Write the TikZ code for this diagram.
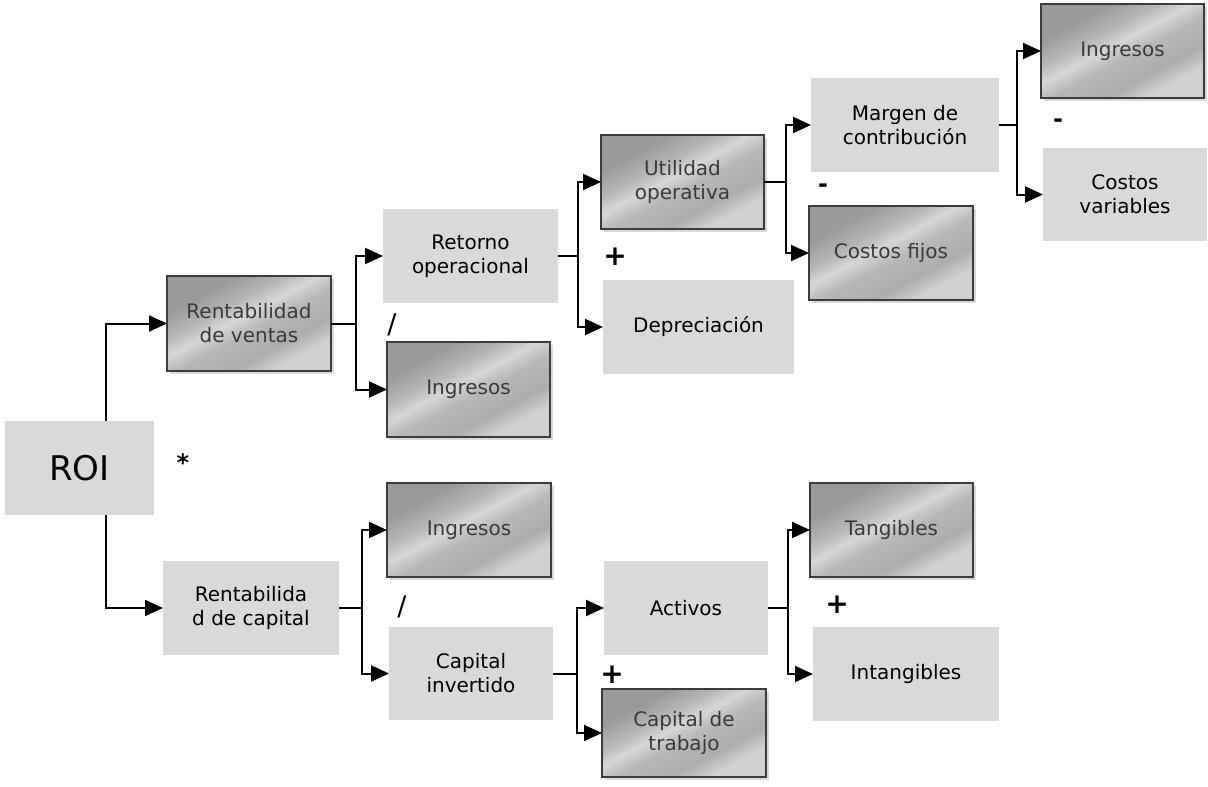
\documentclass[tikz,border=0pt]{standalone}
\usepackage{fontspec}
\setmainfont{DejaVu Sans}
\usetikzlibrary{arrows.meta,shadows}

\definecolor{boxgray}{HTML}{D9D9D9}
\definecolor{edge}{HTML}{3C3C3C}
\definecolor{mtext}{HTML}{3A3A3A}
\definecolor{mA}{HTML}{9A9A9A}
\definecolor{mB}{HTML}{B8B8B8}
\definecolor{mC}{HTML}{D6D6D6}
\definecolor{mD}{HTML}{ADADAD}
\definecolor{mE}{HTML}{D0D0D0}

% brushed-metal fill used by the darker boxes
\pgfdeclarehorizontalshading{metal}{100bp}{%
  color(0bp)=(mA); color(30bp)=(mA); color(40bp)=(mB); color(46bp)=(mC);
  color(53bp)=(mB); color(64bp)=(mD); color(72bp)=(mE); color(100bp)=(mE)}

\tikzset{
  txt/.style={font=\fontsize{20}{24}\selectfont, align=center},
  plainbox/.style={txt, fill=boxgray, inner sep=0pt, outer sep=0pt},
  metalbox/.style={txt, shading=metal, shading angle=-62, draw=edge,
    line width=1.4pt, text=mtext, inner sep=0pt, outer sep=0pt,
    drop shadow={shadow xshift=2.5pt, shadow yshift=-3pt, fill=black, opacity=0.15}},
  link/.style={line width=2pt},
  arr/.style={line width=2pt, -{Triangle[length=18pt,width=16pt]}},
  op/.style={inner sep=0pt}
}

\begin{document}
\begin{tikzpicture}[x=1pt,y=-1pt]
\useasboundingbox (0,0) rectangle (1208,787);

% boxes
\node[plainbox, minimum width=149pt, minimum height=94pt,
      font=\fontsize{34}{40}\selectfont] (roi) at (79.5,468) {ROI};
\node[metalbox, minimum width=164pt, minimum height=95pt] (rv) at (249,323.5) {Rentabilidad\\de ventas};
\node[plainbox, minimum width=176pt, minimum height=94pt] (rc) at (251,608) {Rentabilida\\d de capital};
\node[plainbox, minimum width=175pt, minimum height=94pt] (ro) at (470.5,256) {Retorno\\operacional};
\node[metalbox, minimum width=163pt, minimum height=95pt] (ing1) at (468.5,389.5) {Ingresos};
\node[metalbox, minimum width=163pt, minimum height=94pt] (ut) at (682.5,182) {Utilidad\\operativa};
\node[plainbox, minimum width=191pt, minimum height=94pt] (dep) at (698.5,327) {Depreciación};
\node[plainbox, minimum width=188pt, minimum height=94pt] (mc) at (905,125) {Margen de\\contribución};
\node[metalbox, minimum width=164pt, minimum height=94pt] (cf) at (891,253) {Costos fijos};
\node[metalbox, minimum width=163pt, minimum height=94pt] (ing2) at (1122.5,51) {Ingresos};
\node[plainbox, minimum width=164pt, minimum height=93pt] (cv) at (1125,194.5) {Costos\\variables};
\node[metalbox, minimum width=164pt, minimum height=94pt] (ing3) at (469,530) {Ingresos};
\node[plainbox, minimum width=164pt, minimum height=93pt] (ci) at (471,673.5) {Capital\\invertido};
\node[plainbox, minimum width=164pt, minimum height=94pt] (act) at (686,608) {Activos};
\node[metalbox, minimum width=164pt, minimum height=88pt] (ct) at (684,733) {Capital de\\trabajo};
\node[metalbox, minimum width=163pt, minimum height=94pt] (tan) at (891.5,530) {Tangibles};
\node[plainbox, minimum width=186pt, minimum height=94pt] (int) at (906,674) {Intangibles};

% branch points
\coordinate (r0) at (106,0);
\coordinate (j1) at (356,323.5);
\coordinate (j2) at (578,256);
\coordinate (j3) at (786,182);
\coordinate (j4) at (1017,125);
\coordinate (j5) at (362,608);
\coordinate (j6) at (577,673.5);
\coordinate (j7) at (788,608);

% connectors
\draw[arr] (roi.north -| r0) |- (rv.west);
\draw[arr] (roi.south -| r0) |- (rc.west);

\draw[link] (rv.east) -- (j1);
\draw[arr] (j1) |- (ro.west);
\draw[arr] (j1) |- (ing1.west);

\draw[link] (ro.east) -- (j2);
\draw[arr] (j2) |- (ut.west);
\draw[arr] (j2) |- (dep.west);

\draw[link] (ut.east) -- (j3);
\draw[arr] (j3) |- (mc.west);
\draw[arr] (j3) |- (cf.west);

\draw[link] (mc.east) -- (j4);
\draw[arr] (j4) |- (ing2.west);
\draw[arr] (j4) |- (cv.west);

\draw[link] (rc.east) -- (j5);
\draw[arr] (j5) |- (ing3.west);
\draw[arr] (j5) |- (ci.west);

\draw[link] (ci.east) -- (j6);
\draw[arr] (j6) |- (act.west);
\draw[arr] (j6) |- (ct.west);

\draw[link] (act.east) -- (j7);
\draw[arr] (j7) |- (tan.west);
\draw[arr] (j7) |- (int.west);

% operators
\node[op, font=\fontsize{24}{24}\selectfont\bfseries] (o1) at (183,463) {*};
\node[op, font=\fontsize{27}{27}\selectfont] (o2) at (392,325) {/};
\node[op, font=\fontsize{28}{28}\selectfont\bfseries] (o3) at (615,257) {+};
\node[op, font=\fontsize{24}{24}\selectfont\bfseries] (o4) at (823,188) {-};
\node[op, font=\fontsize{24}{24}\selectfont\bfseries] (o5) at (1058,123) {-};
\node[op, font=\fontsize{27}{27}\selectfont] (o6) at (402,607) {/};
\node[op, font=\fontsize{28}{28}\selectfont\bfseries] (o7) at (612,675) {+};
\node[op, font=\fontsize{28}{28}\selectfont\bfseries] (o8) at (837,605) {+};
\end{tikzpicture}
\end{document}
